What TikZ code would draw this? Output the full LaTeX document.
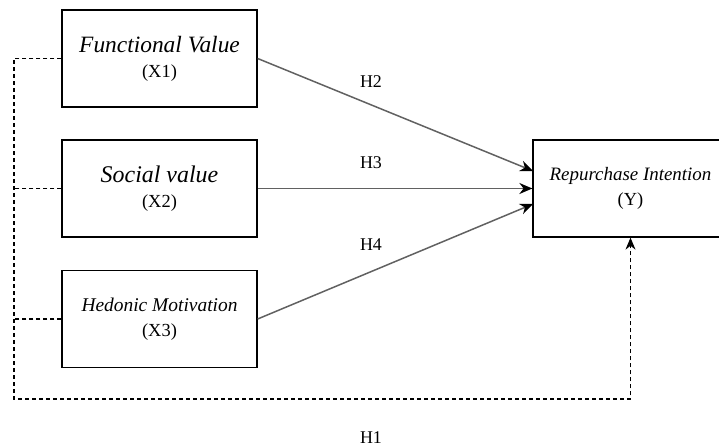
\documentclass[tikz,border=0pt]{standalone}
\usepackage{fontspec}
\setmainfont{Liberation Serif}
\usetikzlibrary{arrows.meta}
\begin{document}
\begin{tikzpicture}[x=1bp,y=-1bp,
  varbox/.style={draw=black,line width=1.3bp,minimum width=195bp,minimum height=97bp,inner sep=0pt,align=center,font=\fontsize{18.5}{25}\selectfont},
  path/.style={draw=black!62,line width=1.5bp,-{Stealth[length=13bp,width=11bp,black]}},
  dashlink/.style={draw=black,line width=1.1bp,dash pattern=on 4bp off 3bp},
  hlabel/.style={font=\fontsize{18}{20}\selectfont}]
\useasboundingbox (0,0) rectangle (719,448);
\begin{scope}
\clip (0,0) rectangle (719,448);
\node[varbox] (x1) at (159.5,58.5) {{\fontsize{23.5}{25}\selectfont\itshape Functional Value}\\(X1)};
\node[varbox] (x2) at (159.5,188.5) {{\fontsize{24}{25}\selectfont\itshape Social value}\\(X2)};
\node[varbox] (x3) at (159.5,319) {{\fontsize{19.5}{24}\selectfont\itshape Hedonic Motivation}\\(X3)};
\node[varbox] (y) at (630.5,188.5) {{\fontsize{19}{24}\selectfont\itshape Repurchase Intention}\\(Y)};
\end{scope}
\coordinate (t2) at (533,171);
\coordinate (t4) at (533,204);
\draw[path] (x1.east) -- (t2);
\draw[path] (x2.east) -- (y.west);
\draw[path] (x3.east) -- (t4);
\coordinate (c1) at (14,58.5);
\coordinate (c2) at (14,188.5);
\coordinate (c3) at (14,319);
\coordinate (cb) at (14,399);
\draw[dashlink,-{Stealth[length=12bp,width=10bp]}] (x1.west) -- (c1) -- (cb) -| (y.south);
\draw[dashlink] (x2.west) -- (c2);
\draw[dashlink] (x3.west) -- (c3);
\node[hlabel] (h2) at (371,82) {H2};
\node[hlabel] (h3) at (371,163) {H3};
\node[hlabel] (h4) at (371,245) {H4};
\node[hlabel] (h1) at (371,438) {H1};
\end{tikzpicture}
\end{document}
